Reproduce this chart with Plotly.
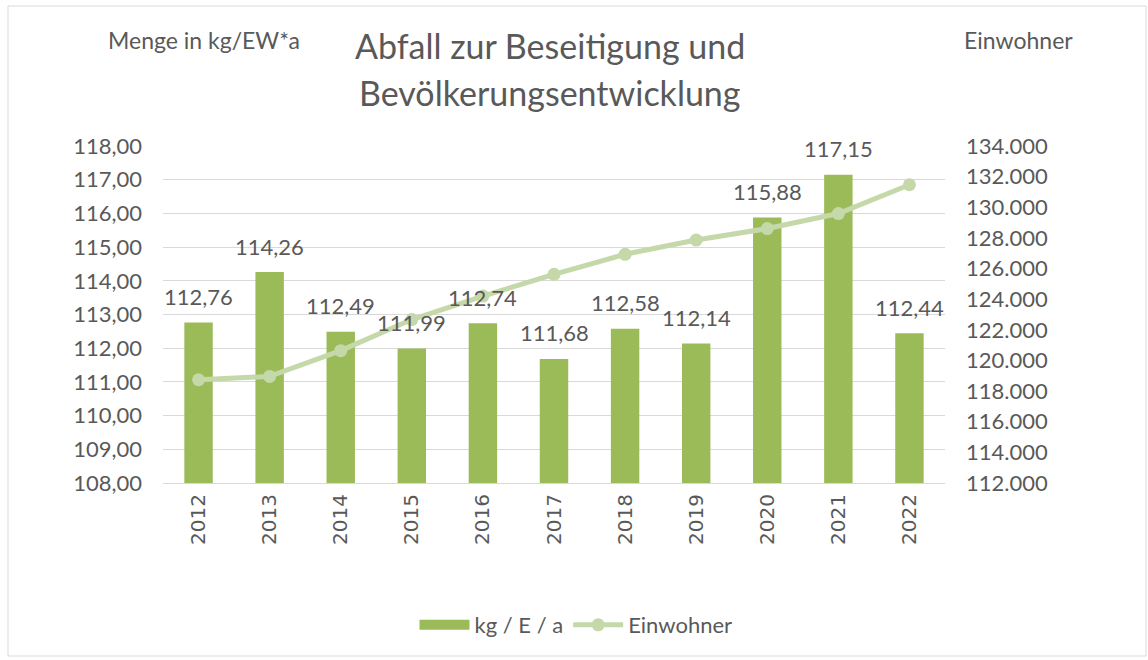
import plotly.graph_objects as go

years = ["2012", "2013", "2014", "2015", "2016", "2017", "2018", "2019", "2020", "2021", "2022"]
kg_per_e = [112.76, 114.26, 112.49, 111.99, 112.74, 111.68, 112.58, 112.14, 115.88, 117.15, 112.44]
einwohner = [118740, 118960, 120640, 122670, 124200, 125620, 126930, 127860, 128610, 129590, 131470]

FONT = "Lato"
GREY = "#595959"
BAR = "#9BBB59"
LINE = "#C5D8A9"

W, H = 1148, 660
L, R, T, B = 163, 203, 146, 177
pw, ph = W - L - R, H - T - B

def px(x):
    return (x - L) / pw

def py(y):
    return (H - B - y) / ph

fig = go.Figure()
fig.add_trace(go.Bar(
    x=years, y=kg_per_e, name="kg / E / a",
    marker=dict(color=BAR, line=dict(width=0)),
    width=0.4, showlegend=False,
))
# legend entry for the bars (wide swatch like the original)
fig.add_trace(go.Scatter(
    x=[years[0]], y=[None], name="kg / E / a", mode="lines",
    line=dict(color=BAR, width=10), showlegend=True, hoverinfo="skip",
))
fig.add_trace(go.Scatter(
    x=years, y=einwohner, name="Einwohner", yaxis="y2",
    mode="lines+markers",
    line=dict(color=LINE, width=5),
    marker=dict(color=LINE, size=13),
))

annotations = [
    dict(x=i, y=v, xref="x", yref="y", text=f"{v:.2f}".replace(".", ","),
         showarrow=False, yanchor="middle", xanchor="center", yshift=26,
         font=dict(family=FONT, size=22, color=GREY))
    for i, v in enumerate(kg_per_e)
]
annotations += [
    dict(text="Abfall zur Beseitigung und", x=px(550), y=py(46), xref="paper", yref="paper",
         showarrow=False, xanchor="center", yanchor="middle",
         font=dict(family=FONT, size=34, color=GREY)),
    dict(text="Bevölkerungsentwicklung", x=px(550), y=py(92), xref="paper", yref="paper",
         showarrow=False, xanchor="center", yanchor="middle",
         font=dict(family=FONT, size=34, color=GREY)),
    dict(text="Menge in kg/EW*a", x=px(204), y=py(40), xref="paper", yref="paper",
         showarrow=False, xanchor="center", yanchor="middle",
         font=dict(family=FONT, size=23, color=GREY)),
    dict(text="Einwohner", x=px(1018), y=py(40), xref="paper", yref="paper",
         showarrow=False, xanchor="center", yanchor="middle",
         font=dict(family=FONT, size=23, color=GREY)),
]

fig.update_layout(
    width=W, height=H,
    margin=dict(l=L, r=R, t=T, b=B, autoexpand=False),
    paper_bgcolor="white", plot_bgcolor="white",
    separators=",.",
    font=dict(family=FONT, size=22, color=GREY),
    showlegend=True,
    legend=dict(orientation="h", x=px(576), y=py(625), xanchor="center", yanchor="middle",
                font=dict(family=FONT, size=22, color=GREY), traceorder="normal",
                itemwidth=50),
    bargap=0.6,
    xaxis=dict(type="category", categoryorder="array", categoryarray=years,
               range=[-0.5, len(years) - 0.5],
               tickangle=-90, showgrid=False, showline=True,
               linecolor="#D9D9D9", linewidth=1, ticks="", automargin=False,
               ticklabelstandoff=2,
               tickfont=dict(family="DejaVu Sans", size=20, color=GREY)),
    yaxis=dict(range=[108, 118], dtick=1, tickformat=".2f", showgrid=True,
               gridcolor="#D9D9D9", gridwidth=1, zeroline=False, ticks="", automargin=False,
               ticklabelstandoff=20,
               tickfont=dict(family=FONT, size=22, color=GREY)),
    yaxis2=dict(range=[112000, 134000], dtick=2000, tickformat=",d", overlaying="y",
                side="right", showgrid=False, zeroline=False, ticks="", automargin=False,
                ticklabelstandoff=20,
                tickfont=dict(family=FONT, size=22, color=GREY)),
    annotations=annotations,
    shapes=[dict(type="rect", xref="paper", yref="paper",
                 x0=px(8), x1=px(1146), y0=py(656), y1=py(6),
                 line=dict(color="#D9D9D9", width=1), fillcolor="rgba(0,0,0,0)", layer="below")],
)

fig.write_html("out.html", config={"displayModeBar": False},
               post_script="document.body.style.margin='0';document.body.style.overflow='hidden';")
